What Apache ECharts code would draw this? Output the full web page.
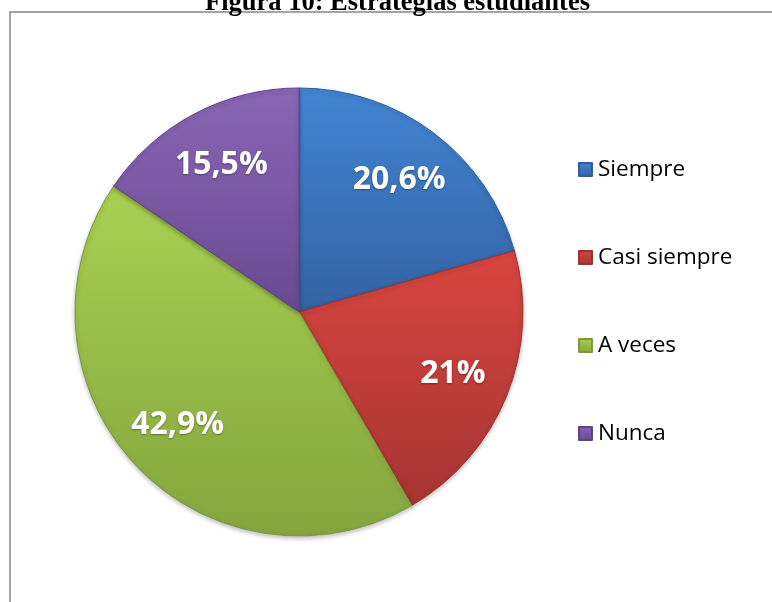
<!DOCTYPE html>
<html>
<head>
<meta charset="utf-8">
<script src="https://cdn.jsdelivr.net/npm/echarts@6/dist/echarts.min.js"></script>
<style>
  html, body { margin: 0; padding: 0; background: #fff; }
  #chart { width: 772px; height: 602px; }
</style>
</head>
<body>
<div id="chart"></div>
<script>
// datos de la figura
const categories = ['Siempre', 'Casi siempre', 'A veces', 'Nunca']
const values = [20.6, 21, 42.9, 15.5]
const labels = ['20,6%', '21%', '42,9%', '15,5%']
const title = 'Figura 10: Estrategias estudiantes'

// colores tipo Office (arriba claro, abajo oscuro)
const topColors = ['#4285D2', '#D9453F', '#A9D052', '#8A66B6']
const bottomColors = ['#3262A3', '#A53432', '#84A53D', '#684990']
const edgeColors = ['#2F5E98', '#9B3330', '#7C9A3B', '#5F4484']

const grad = (i) => new echarts.graphic.LinearGradient(0, 0, 0, 1, [
  { offset: 0, color: topColors[i] },
  { offset: 1, color: bottomColors[i] }
])

const pieData = categories.map((name, i) => ({
  name,
  value: values[i],
  itemStyle: { color: grad(i), borderColor: edgeColors[i] }
}))

const labelData = categories.map((name, i) => ({
  name,
  value: values[i],
  label: { formatter: labels[i] }
}))

const chart = echarts.init(document.getElementById('chart'), null, { renderer: 'canvas' })
const option = {
  animation: false,
  title: {
    text: title,
    left: 200,
    top: -15,
    textStyle: {
      fontFamily: 'Liberation Serif',
      fontWeight: 'bold',
      fontSize: 26.5,
      color: '#000'
    }
  },
  graphic: [
    {
      type: 'rect',
      shape: { x: 10, y: 12, width: 800, height: 620 },
      style: { fill: 'none', stroke: '#868686', lineWidth: 1.5 },
      z: -1
    }
  ],
  legend: {
    orient: 'vertical',
    left: 573,
    top: 153,
    itemWidth: 13,
    itemHeight: 13,
    itemGap: 65,
    icon: 'rect',
    data: categories,
    textStyle: {
      fontFamily: 'Open Sans',
      fontSize: 22.5,
      color: '#000',
      padding: [0, 0, 0, 1]
    }
  },
  series: [
    {
      name: 'Estrategias',
      type: 'pie',
      center: [299, 312],
      radius: 224,
      startAngle: 90,
      clockwise: true,
      silent: true,
      label: { show: false },
      labelLine: { show: false },
      itemStyle: {
        borderWidth: 1,
        shadowBlur: 4,
        shadowColor: 'rgba(0,0,0,0.25)',
        shadowOffsetY: 2
      },
      data: pieData
    },
    {
      // serie auxiliar solo para ubicar las etiquetas
      name: 'etiquetas',
      type: 'pie',
      center: [299, 312],
      radius: [0, 326],
      startAngle: 90,
      clockwise: true,
      silent: true,
      legendHoverLink: false,
      itemStyle: { color: 'rgba(0,0,0,0)' },
      label: {
        show: true,
        position: 'inside',
        fontFamily: 'Open Sans',
        fontWeight: 'bold',
        fontSize: 32,
        color: '#fff',
        textShadowColor: 'rgba(0,0,0,0.35)',
        textShadowBlur: 2,
        textShadowOffsetY: 1
      },
      labelLine: { show: false },
      data: labelData
    }
  ]
}
chart.setOption(option)
</script>
</body>
</html>
